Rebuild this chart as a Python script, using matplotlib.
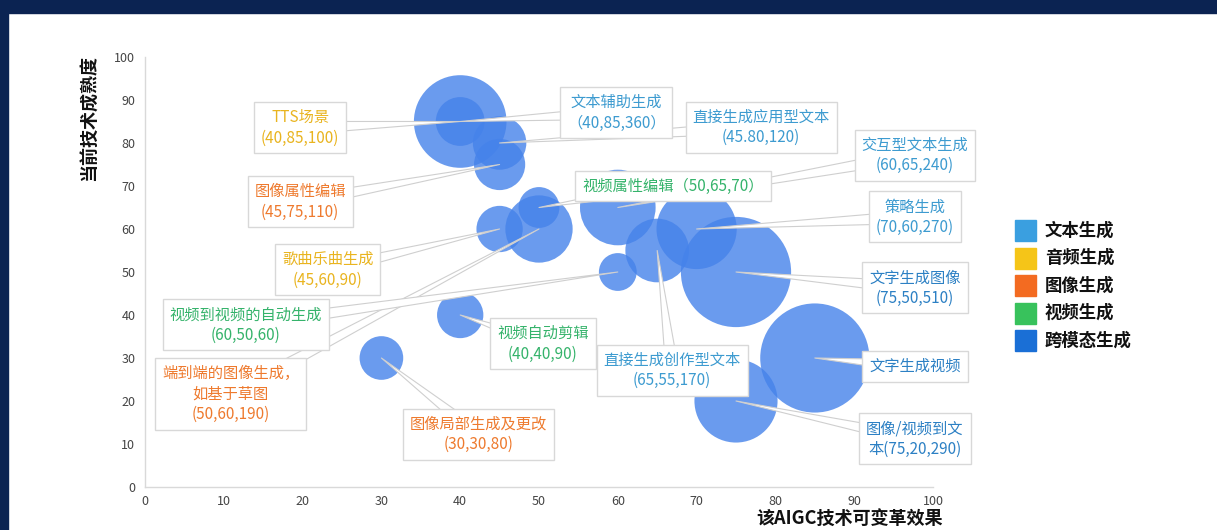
import matplotlib
matplotlib.use('Agg')
import matplotlib.pyplot as plt
from matplotlib.patches import Rectangle

plt.rcParams['font.family'] = ['Noto Sans CJK SC', 'DejaVu Sans']

# ---- data ----
names = ['文本辅助生成', 'TTS场景', '直接生成应用型文本', '图像属性编辑', '歌曲乐曲生成',
         '视频属性编辑', '端到端的图像生成', '交互型文本生成', '策略生成', '直接生成创作型文本',
         '视频到视频的自动生成', '文字生成图像', '文字生成视频', '图像/视频到文本',
         '视频自动剪辑', '图像局部生成及更改']
x_vals = [40, 40, 45, 45, 45, 50, 50, 60, 70, 65, 60, 75, 85, 75, 40, 30]
y_vals = [85, 85, 80, 75, 60, 65, 60, 65, 60, 55, 50, 50, 30, 20, 40, 30]
sizes = [360, 100, 120, 110, 90, 70, 190, 240, 270, 170, 60, 510, 500, 290, 90, 80]
cats = ['文本生成', '音频生成', '文本生成', '图像生成', '音频生成', '视频生成', '图像生成',
        '文本生成', '文本生成', '文本生成', '视频生成', '跨模态生成', '跨模态生成',
        '跨模态生成', '视频生成', '图像生成']
labels = ['文本辅助生成\n（40,85,360）', 'TTS场景\n(40,85,100)', '直接生成应用型文本\n(45.80,120)',
          '图像属性编辑\n(45,75,110)', '歌曲乐曲生成\n(45,60,90)', '视频属性编辑（50,65,70）',
          '端到端的图像生成，\n如基于草图\n(50,60,190)', '交互型文本生成\n(60,65,240)',
          '策略生成\n(70,60,270)', '直接生成创作型文本\n(65,55,170)',
          '视频到视频的自动生成\n(60,50,60)', '文字生成图像\n(75,50,510)', '文字生成视频',
          '图像/视频到文\n本(75,20,290)', '视频自动剪辑\n(40,40,90)', '图像局部生成及更改\n(30,30,80)']
legend_cats = ['文本生成', '音频生成', '图像生成', '视频生成', '跨模态生成']
x_ticks = [0, 10, 20, 30, 40, 50, 60, 70, 80, 90, 100]
y_ticks = [0, 10, 20, 30, 40, 50, 60, 70, 80, 90, 100]

# ---- layout / style ----
label_pos = [(59.8, 87.0), (19.7, 83.5), (78.2, 83.7), (19.7, 66.3), (23.2, 50.5),
             (67.0, 70.0), (10.9, 21.6), (97.7, 77.2), (97.7, 62.8), (66.9, 27.2),
             (12.8, 37.7), (97.7, 46.3), (97.7, 28.1), (97.7, 11.2), (50.5, 33.3),
             (42.3, 12.3)]
legend_colors = {'文本生成': '#3a9fe0', '音频生成': '#f5c518', '图像生成': '#f36b21',
                 '视频生成': '#38c25c', '跨模态生成': '#1a6fd6'}
text_colors = {'文本生成': '#3d9bd0', '音频生成': '#e9b41f', '图像生成': '#ee7a2e',
               '视频生成': '#35b36b', '跨模态生成': '#2c80c4'}

W, H = 1217, 530
fig = plt.figure(figsize=(W / 100, H / 100), dpi=100)
fig.patch.set_facecolor('white')

# navy frame
fig.patches.append(Rectangle((0, 1 - 13 / H), 1, 13 / H, transform=fig.transFigure,
                             color='#0b2352', zorder=0))
fig.patches.append(Rectangle((0, 0), 8 / W, 1, transform=fig.transFigure,
                             color='#0b2352', zorder=0))

ax = fig.add_axes([145 / W, 43 / H, (933 - 145) / W, (487 - 57) / H])
ax.set_xlim(0, 100)
ax.set_ylim(0, 100)
ax.set_xticks(x_ticks)
ax.set_yticks(y_ticks)
ax.tick_params(length=0, labelsize=9, colors='#444444')
ax.tick_params(axis='y', pad=7)
ax.tick_params(axis='x', pad=6)
for s in ['top', 'right']:
    ax.spines[s].set_visible(False)
for s in ['left', 'bottom']:
    ax.spines[s].set_color('#d9d9d9')
    ax.spines[s].set_linewidth(1)

ax.scatter(x_vals, y_vals, s=[12.35 * v for v in sizes], color='#4582ea', alpha=0.8,
           linewidths=0, zorder=2, clip_on=False)

# callout tails first, then all boxes on top of them
for i in range(len(names)):
    ax.annotate('', xy=(x_vals[i], y_vals[i]), xytext=label_pos[i],
                xycoords='data', textcoords='data', fontsize=11,
                arrowprops=dict(arrowstyle='wedge,tail_width=0.85', fc='white',
                                ec='#cfcfcf', lw=0.8, shrinkA=0, shrinkB=0),
                annotation_clip=False, zorder=4)
for i in range(len(names)):
    ax.text(label_pos[i][0], label_pos[i][1], labels[i], ha='center', va='center',
            fontsize=11, color=text_colors[cats[i]], linespacing=1.25, zorder=6,
            bbox=dict(boxstyle='square,pad=0.45', fc='white', ec='#d8d8d8', lw=1),
            clip_on=False)

# axis titles
fig.text(89 / W, 1 - 55 / H, '当前技术成熟度', rotation=90, ha='center', va='top',
         fontsize=13, fontweight='bold', color='#111111')
fig.text(943 / W, 2 / H, '该AIGC技术可变革效果', ha='right', va='bottom',
         fontsize=13, fontweight='bold', color='#111111')

# legend
for j, c in enumerate(legend_cats):
    top = 220 + j * 27.5
    fig.patches.append(Rectangle((1015 / W, 1 - (top + 21) / H), 21 / W, 21 / H,
                                 transform=fig.transFigure, color=legend_colors[c]))
    fig.text(1045 / W, 1 - (top + 10.5) / H, c, ha='left', va='center', fontsize=12.5,
             fontweight='bold', color='#111111')

fig.savefig('out.png', dpi=100)
